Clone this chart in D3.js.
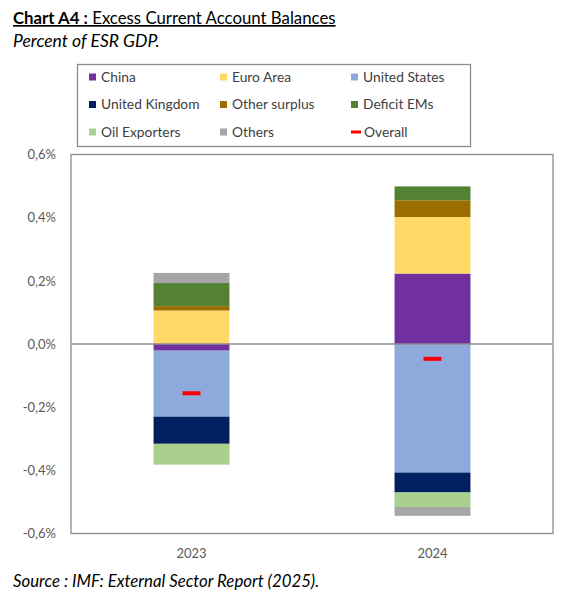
<!DOCTYPE html>
<html>
<head>
<meta charset="utf-8">
<script src="https://cdn.jsdelivr.net/npm/d3@7"></script>
<style>
  body { margin: 0; background: #fff; }
  svg { font-family: Lato, "Open Sans", sans-serif; }
</style>
</head>
<body>
<svg id="chart" width="571" height="597"></svg>
<script>
var years = ["2023", "2024"];
var seriesNames = ["China", "Euro Area", "United States", "United Kingdom", "Other surplus", "Deficit EMs", "Oil Exporters", "Others"];
var seriesColors = ["#7030A0", "#FFD966", "#8EA9DB", "#002060", "#9C6D00", "#548235", "#A9D08E", "#A6A6A6"];
// values in percent of GDP, one array per region: [2023, 2024]
var china = [-0.021, 0.223];
var euroArea = [0.106, 0.179];
var unitedStates = [-0.209, -0.407];
var unitedKingdom = [-0.086, -0.063];
var otherSurplus = [0.014, 0.053];
var deficitEMs = [0.073, 0.044];
var oilExporters = [-0.066, -0.046];
var others = [0.032, -0.028];
var overall = [-0.156, -0.047];
var yTicks = [-0.6, -0.4, -0.2, 0, 0.2, 0.4, 0.6];

var seriesValues = [china, euroArea, unitedStates, unitedKingdom, otherSurplus, deficitEMs, oilExporters, others];

var rows = years.map(function(y, i) {
	var r = { year: y, overall: overall[i] };
	seriesNames.forEach(function(n, k) { r[n] = seriesValues[k][i]; });
	return r;
});

var svg = d3.select("#chart");
var margin = { left: 71, right: 18, top: 154.5, bottom: 63.5 };
var W = 571, H = 597;

var x = d3.scaleBand()
	.domain(years)
	.range([margin.left, W - margin.right])
	.paddingInner(0.685)
	.paddingOuter(0.3425);

var y = d3.scaleLinear()
	.domain([-0.6, 0.6])
	.range([H - margin.bottom, margin.top]);

var stack = d3.stack()
	.keys(seriesNames)
	.offset(d3.stackOffsetDiverging);
var stacked = stack(rows);

// title
var title = svg.append("text")
	.attr("x", 13)
	.attr("y", 24)
	.attr("font-size", 16.8)
	.attr("fill", "#000")
	.attr("text-decoration", "underline");
title.append("tspan").attr("font-weight", "bold").text("Chart A4 :");
title.append("tspan").text(" Excess Current Account Balances");

svg.append("text")
	.attr("x", 13)
	.attr("y", 47)
	.attr("font-size", 17.5)
	.attr("font-style", "italic")
	.text("Percent of ESR GDP.");

// legend
var legend = svg.append("g");
legend.append("rect")
	.attr("x", 77.5)
	.attr("y", 64.5)
	.attr("width", 393)
	.attr("height", 82)
	.attr("fill", "#fff")
	.attr("stroke", "#8c8c8c")
	.attr("stroke-width", 1.3);

var legendItems = seriesNames.map(function(n, i) { return { name: n, color: seriesColors[i], type: "box" }; });
legendItems.push({ name: "Overall", color: "#FF0000", type: "dash" });
var colX = [89, 220, 351];
var rowY = [77, 104.5, 132];

var li = legend.selectAll("g.item")
	.data(legendItems)
	.enter().append("g")
	.attr("class", "item")
	.attr("transform", function(d, i) {
		return "translate(" + colX[i % 3] + "," + rowY[Math.floor(i / 3)] + ")";
	});
li.append("rect")
	.attr("x", 0)
	.attr("y", function(d) { return d.type == "box" ? -3.5 : -1.5; })
	.attr("width", function(d) { return d.type == "box" ? 7 : 10; })
	.attr("height", function(d) { return d.type == "box" ? 7 : 3; })
	.attr("fill", function(d) { return d.color; });
li.append("text")
	.attr("x", function(d) { return d.type == "box" ? 12 : 13; })
	.attr("y", 0)
	.attr("dy", "0.35em")
	.attr("font-size", 13.8)
	.attr("fill", "#404040")
	.text(function(d) { return d.name; });

// bars
svg.append("g")
	.selectAll("g")
	.data(stacked)
	.enter().append("g")
	.attr("fill", function(d, i) { return seriesColors[i]; })
	.selectAll("rect")
	.data(function(d) { return d; })
	.enter().append("rect")
	.attr("x", function(d) { return x(d.data.year); })
	.attr("width", x.bandwidth())
	.attr("y", function(d) { return y(Math.max(d[0], d[1])); })
	.attr("height", function(d) { return Math.abs(y(d[0]) - y(d[1])); });

// zero line
svg.append("line")
	.attr("x1", margin.left)
	.attr("x2", W - margin.right)
	.attr("y1", y(0))
	.attr("y2", y(0))
	.attr("stroke", "#8c8c8c")
	.attr("stroke-width", 1.3);

// overall markers
svg.append("g")
	.selectAll("rect")
	.data(rows)
	.enter().append("rect")
	.attr("x", function(d) { return x(d.year) + x.bandwidth() / 2 - 9; })
	.attr("y", function(d) { return y(d.overall) - 2; })
	.attr("width", 18)
	.attr("height", 4)
	.attr("fill", "#FF0000");

// frame
svg.append("rect")
	.attr("x", margin.left)
	.attr("y", margin.top)
	.attr("width", W - margin.left - margin.right)
	.attr("height", H - margin.top - margin.bottom)
	.attr("fill", "none")
	.attr("stroke", "#8c8c8c")
	.attr("stroke-width", 1.3);

// axes
var fmt = function(d) { return d3.format(".1f")(d).replace(".", ",").replace("−", "-") + "%"; };
var yAxis = svg.append("g")
	.attr("transform", "translate(" + (margin.left - 15) + ",0)")
	.call(d3.axisLeft(y).tickValues(yTicks).tickSize(0).tickPadding(0).tickFormat(fmt));
yAxis.select(".domain").remove();
yAxis.selectAll("text")
	.attr("font-size", 13)
	.attr("font-family", "Lato, sans-serif")
	.attr("fill", "#595959");

var xAxis = svg.append("g")
	.attr("transform", "translate(0," + (H - margin.bottom + 15) + ")")
	.call(d3.axisBottom(x).tickSize(0).tickPadding(0));
xAxis.select(".domain").remove();
xAxis.selectAll("text")
	.attr("font-size", 13)
	.attr("font-family", "Lato, sans-serif")
	.attr("fill", "#595959");

// source
svg.append("text")
	.attr("x", 13)
	.attr("y", 587)
	.attr("font-size", 16.8)
	.attr("font-style", "italic")
	.text("Source : IMF: External Sector Report (2025).");
</script>
</body>
</html>
